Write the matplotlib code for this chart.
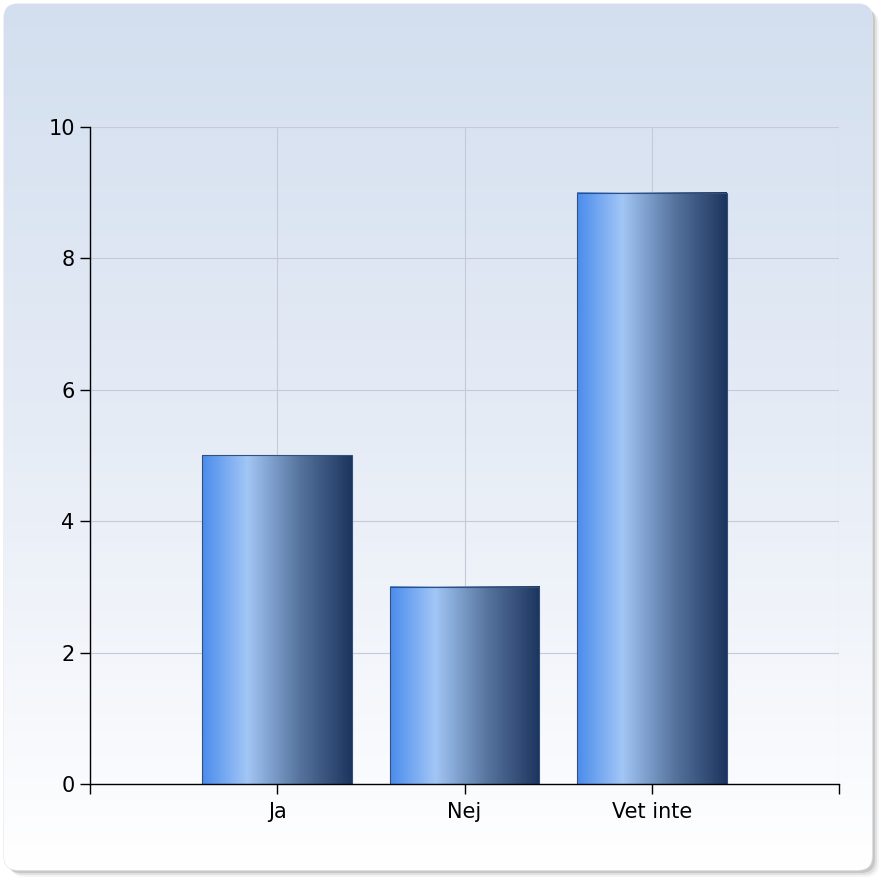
import numpy as np
import matplotlib
matplotlib.use("Agg")
import matplotlib.pyplot as plt
from matplotlib.patches import FancyBboxPatch
from matplotlib.colors import LinearSegmentedColormap

# chart data
categories = ["Ja", "Nej", "Vet inte"]
values = [5, 3, 9]
y_ticks = [0, 2, 4, 6, 8, 10]

W, H = 882, 882
fig = plt.figure(figsize=(W / 100, H / 100), dpi=100)
fig.patch.set_facecolor("white")

# background panel with rounded corners, shadow and vertical gradient
bg = fig.add_axes([0, 0, 1, 1], zorder=0)
bg.set_xlim(0, W)
bg.set_ylim(H, 0)
bg.axis("off")
for off, alpha in [(7, 0.08), (5, 0.15), (3, 0.25)]:
    sh = FancyBboxPatch((4 + off, 4 + off), 868, 866,
                        boxstyle="round,pad=0,rounding_size=14",
                        fc="#7a7a7a", ec="none", alpha=alpha)
    bg.add_patch(sh)
panel = FancyBboxPatch((4, 4), 868, 866,
                       boxstyle="round,pad=0,rounding_size=14",
                       fc="none", ec="#e6e9ef", lw=1)
bg.add_patch(panel)
bg_cmap = LinearSegmentedColormap.from_list("bg", ["#d3dfef", "#e6ecf6", "#ffffff"])
grad = np.linspace(0, 1, 256).reshape(-1, 1)
im = bg.imshow(grad, cmap=bg_cmap, extent=[4, 872, 870, 4], aspect="auto", zorder=1)
im.set_clip_path(panel)

# main axes
ax = fig.add_axes([90 / W, 1 - 784 / H, (839 - 90) / W, (784 - 127) / H], zorder=2)
ax.patch.set_alpha(0)

x = np.arange(1, len(categories) + 1)
bars = ax.bar(x, values, width=0.8, color="none", edgecolor="#34507a", linewidth=0.8, zorder=3)

bar_cmap = LinearSegmentedColormap.from_list(
    "bar", [(0.0, "#4a8cec"), (0.3, "#a2c6f6"), (0.65, "#56749e"), (1.0, "#1c355e")])
row = np.linspace(0, 1, 256).reshape(1, -1)
for b in bars:
    ax.imshow(row, cmap=bar_cmap, aspect="auto", zorder=2,
              extent=[b.get_x(), b.get_x() + b.get_width(), 0, b.get_height()])

ax.set_xlim(0, len(categories) + 1)
ax.set_ylim(0, 10)
ax.set_yticks(y_ticks)
ax.set_xticks(range(0, len(categories) + 2))
ax.set_xticklabels([""] + categories + [""])
ax.grid(True, color="#c6cad6", linewidth=0.8, zorder=0)
ax.set_axisbelow(True)

for s in ["top", "right"]:
    ax.spines[s].set_visible(False)
for s in ["left", "bottom"]:
    ax.spines[s].set_color("black")
    ax.spines[s].set_linewidth(1.0)
    ax.spines[s].set_zorder(5)
ax.tick_params(axis="both", direction="out", length=7, width=1, colors="black",
               labelsize=15)
ax.tick_params(axis="x", pad=6)
ax.tick_params(axis="y", pad=4)

plt.savefig("out.png", dpi=100, facecolor="white")
